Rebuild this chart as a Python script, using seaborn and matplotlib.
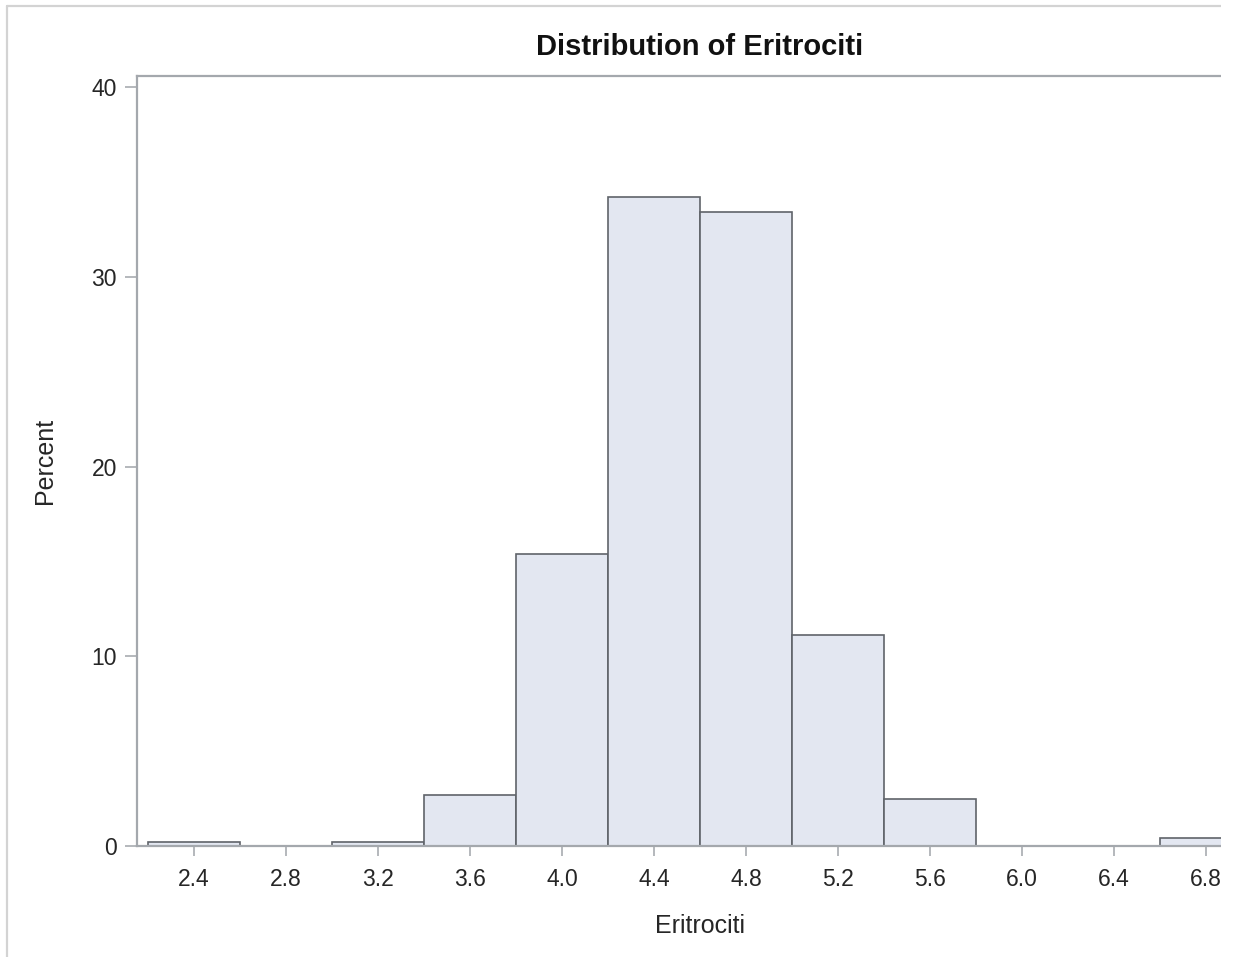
import numpy as np
import pandas as pd
import matplotlib
matplotlib.use('Agg')
import matplotlib.pyplot as plt
import seaborn as sns
from matplotlib.lines import Line2D
from matplotlib.patches import Rectangle

# bin midpoints and percent per bin
bin_centers = [2.4, 2.8, 3.2, 3.6, 4.0, 4.4, 4.8, 5.2, 5.6, 6.0, 6.4, 6.8]
percents = [0.2, 0.0, 0.2, 2.7, 15.4, 34.2, 33.4, 11.1, 2.5, 0.0, 0.0, 0.4]
x_ticks = [2.4, 2.8, 3.2, 3.6, 4.0, 4.4, 4.8, 5.2, 5.6, 6.0, 6.4, 6.8]
y_ticks = [0, 10, 20, 30, 40]

df = pd.DataFrame({'Eritrociti': bin_centers, 'Percent': percents})

sns.set_style('white')
plt.rcParams['font.family'] = ['Liberation Sans', 'DejaVu Sans']

W, H = 1233, 957
fig = plt.figure(figsize=(W / 100, H / 100), dpi=100)
ax = fig.add_axes([137 / W, (H - 846) / H, (1221 - 137) / W, (846 - 76) / H])

sns.histplot(data=df, x='Eritrociti', weights='Percent', binwidth=0.4,
             binrange=(2.2, 7.0), ax=ax,
             color='#e3e7f1', edgecolor='#60646a', linewidth=1.2, alpha=1)

ax.set_xlim(2.152, 6.865)
ax.set_ylim(0, 40.58)
ax.set_xticks(x_ticks)
ax.set_xticklabels([f'{v:.1f}' for v in x_ticks])
ax.set_yticks(y_ticks)

for s in ['left', 'top', 'bottom']:
    ax.spines[s].set_color('#a4a8ad')
    ax.spines[s].set_linewidth(1.6)
ax.spines['right'].set_visible(False)

ax.tick_params(axis='x', length=7.5, width=1.4, color='#b4b8bc', labelsize=16.5,
               labelcolor='#262626', pad=8, bottom=True)
ax.tick_params(axis='y', length=9, width=1.4, color='#b4b8bc', labelsize=16.5,
               labelcolor='#262626', pad=5.5, left=True)

ax.set_xlabel('')
ax.set_ylabel('')
fig.text(700 / W, 1 - 933 / H, 'Eritrociti', ha='center', va='baseline',
         fontsize=18, color='#262626')
fig.text(52 / W, 1 - 461 / H, 'Percent', rotation=90, rotation_mode='anchor',
         ha='center', va='baseline', fontsize=18, color='#262626')
fig.text(700 / W, 1 - 55 / H, 'Distribution of Eritrociti', ha='center', va='baseline',
         fontsize=21, fontweight='bold', color='#111111')

# outer frame
fig.add_artist(Line2D([7 / W, 7 / W], [0, 1 - 6 / H], transform=fig.transFigure,
                      color='#d3d3d3', linewidth=1.6))
fig.add_artist(Line2D([7 / W, 1221 / W], [1 - 6 / H, 1 - 6 / H], transform=fig.transFigure,
                      color='#d3d3d3', linewidth=1.6))
# the source image is cut off on the right
fig.add_artist(Rectangle((1221 / W, 0), 12 / W, 1, transform=fig.transFigure,
                         facecolor='white', edgecolor='none', zorder=10))

fig.savefig('out.png', dpi=100)
